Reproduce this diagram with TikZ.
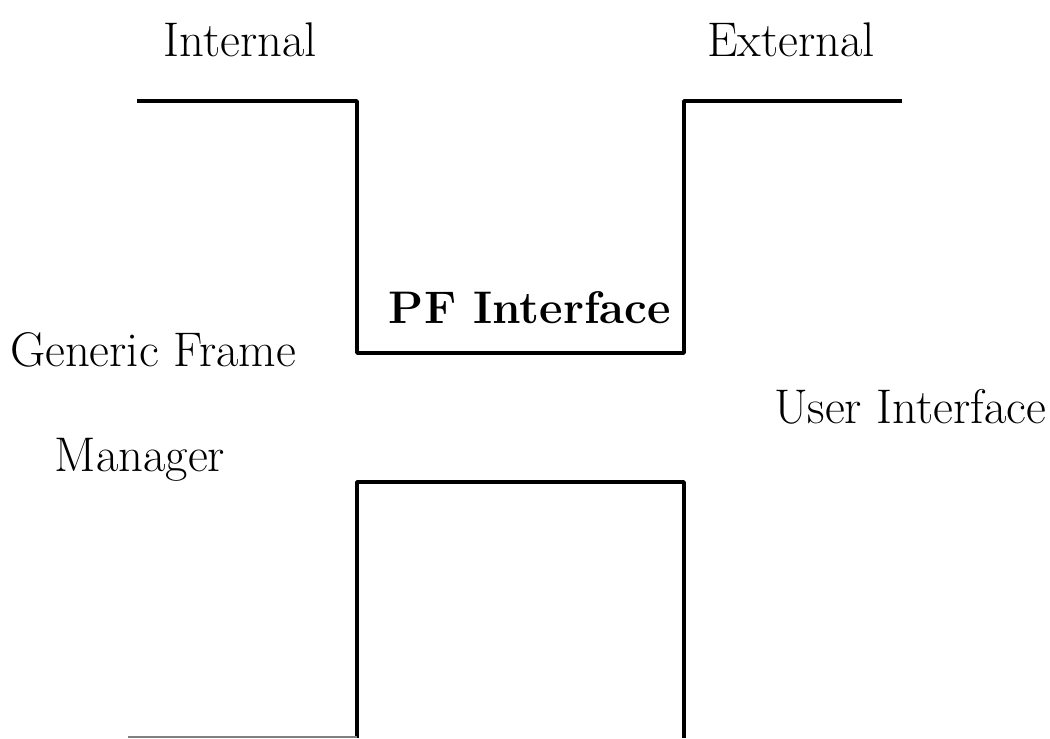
\documentclass[tikz,border=0pt]{standalone}
\usepackage{amsmath,amssymb}

\begin{document}
\begin{tikzpicture}[x=0.02cm, y=-0.02cm]
  \tikzset{wall/.style={line width=2pt, line join=round},
           lbl/.style={font=\fontsize{27.7}{32}\selectfont, inner sep=0pt}}
  \useasboundingbox (0,0) rectangle (1050,738);

  % upper channel
  \draw[wall] (137,101) -- (357,101) -- (357,353) -- (684,353) -- (684,101) -- (902,101);

  % lower block
  \draw[wall] (357,738) -- (357,482) -- (684,482) -- (684,738);
  \draw[gray, line width=0.8pt] (128,737) -- (357,737);

  \node[lbl] (int) at (240,40) {Internal};
  \node[lbl] (ext) at (791,40) {External};
  \node[lbl, font=\fontsize{26}{30}\selectfont\bfseries] (pf) at (530,308) {PF Interface};
  \node[lbl] (gfm) at (153,350) {Generic Frame};
  \node[lbl] (mgr) at (140,460) {Manager};
  \node[lbl] (ui) at (910,407) {User Interface};
\end{tikzpicture}
\end{document}
